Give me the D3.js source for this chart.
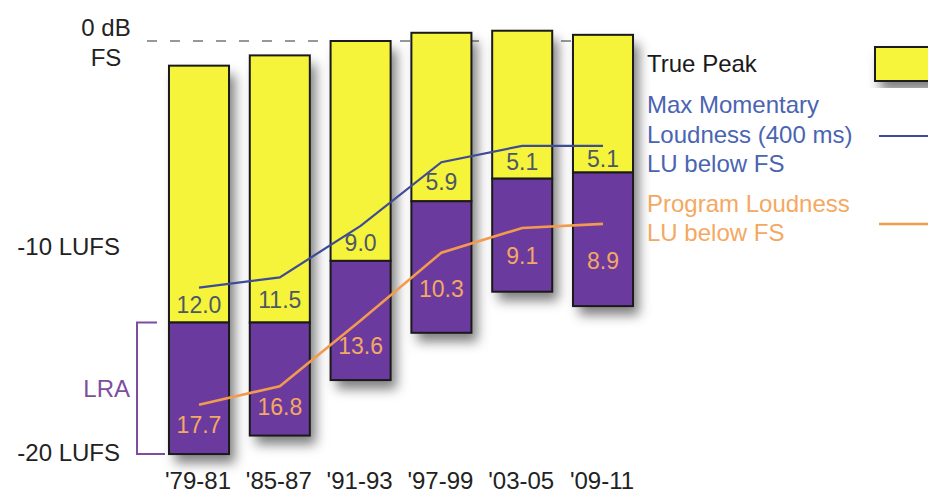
<!DOCTYPE html>
<html>
<head>
<meta charset="utf-8">
<script src="https://cdn.jsdelivr.net/npm/d3@7/dist/d3.min.js"></script>
<style>
  html, body { margin: 0; padding: 0; background: #fff; }
  svg { display: block; font-family: "Liberation Sans", Arial, Helvetica, sans-serif; }
</style>
</head>
<body>
<svg id="chart" width="928" height="495"></svg>
<script>
// Loudness statistics per period, in dB relative to full scale
const categories = ["'79-81", "'85-87", "'91-93", "'97-99", "'03-05", "'09-11"];
const truePeak = [-1.2, -0.7, 0.0, 0.4, 0.5, 0.3];
const maxMomentary = [-12.0, -11.5, -9.0, -5.9, -5.1, -5.1];
const programLoudness = [-17.7, -16.8, -13.6, -10.3, -9.1, -8.9];
const lraHigh = [-13.7, -13.7, -10.7, -7.8, -6.7, -6.4];
const lraLow = [-20.1, -19.2, -16.5, -14.2, -12.2, -12.9];
const yTicks = [0, -10, -20];
const yTickLabels = [["0 dB", "FS"], ["-10 LUFS"], ["-20 LUFS"]];
const legendLabels = {
  peak: ["True Peak"],
  momentary: ["Max Momentary", "Loudness (400 ms)", "LU below FS"],
  program: ["Program Loudness", "LU below FS"]
};

const YELLOW = "#f6f43a";
const PURPLE = "#6b3a9f";
const BLUE_LINE = "#3e4c96";
const BLUE_TEXT = "#4a64b2";
const ORANGE = "#f29a4e";
const ORANGE_TEXT = "#f4a862";
const LABEL_DARK = "#4c5868";
const LRA_COLOR = "#7d4d9f";

const svg = d3.select("#chart");

const defs = svg.append("defs");
const shadow = defs.append("filter").attr("id", "shadow")
  .attr("x", "-30%").attr("y", "-10%").attr("width", "170%").attr("height", "130%");
shadow.append("feDropShadow")
  .attr("dx", 6).attr("dy", 9).attr("stdDeviation", 6)
  .attr("flood-color", "#000").attr("flood-opacity", 0.5);

const y = d3.scaleLinear().domain([0, -20]).range([41, 452]);
const x = d3.scaleBand().domain(categories)
  .range([158.6, 643.4]).paddingInner(0.257).paddingOuter(0.1285);
const cx = d => x(d) + x.bandwidth() / 2;

// 0 dBFS reference line
svg.append("line")
  .attr("x1", 147).attr("x2", 600)
  .attr("y1", y(0)).attr("y2", y(0))
  .attr("stroke", "#777").attr("stroke-width", 1.6)
  .attr("stroke-dasharray", "10,13");

// Vertical axis labels
const axis = d3.axisLeft(y).tickValues(yTicks).tickSize(0).tickPadding(0)
  .tickFormat(() => "");
const axisG = svg.append("g").attr("transform", "translate(120,0)").call(axis);
axisG.select(".domain").remove();
axisG.selectAll(".tick text").each(function (d, i) {
  const t = d3.select(this)
    .attr("fill", "#222").attr("font-size", 24).attr("font-family", null)
    .attr("dy", null);
  const lines = yTickLabels[i];
  if (lines.length > 1) {
    t.attr("text-anchor", "middle").attr("x", -14);
    lines.forEach((s, k) => t.append("tspan")
      .attr("x", -14).attr("y", k === 0 ? -6 : 24).text(s));
  } else {
    t.attr("text-anchor", "end").attr("x", 0).attr("y", 8).text(lines[0]);
  }
});

// Bars: true peak down to the top of the loudness range (yellow), loudness range (purple)
const bars = svg.append("g").selectAll("g").data(categories).join("g");
bars.append("rect")
  .attr("x", d => x(d)).attr("width", x.bandwidth())
  .attr("y", (d, i) => y(truePeak[i]))
  .attr("height", (d, i) => y(lraLow[i]) - y(truePeak[i]))
  .attr("fill", YELLOW).attr("filter", "url(#shadow)");
bars.append("rect")
  .attr("x", d => x(d)).attr("width", x.bandwidth())
  .attr("y", (d, i) => y(truePeak[i]))
  .attr("height", (d, i) => y(lraHigh[i]) - y(truePeak[i]))
  .attr("fill", YELLOW).attr("stroke", "#1a1a1a").attr("stroke-width", 2);
bars.append("rect")
  .attr("x", d => x(d)).attr("width", x.bandwidth())
  .attr("y", (d, i) => y(lraHigh[i]))
  .attr("height", (d, i) => y(lraLow[i]) - y(lraHigh[i]))
  .attr("fill", PURPLE).attr("stroke", "#1a1a1a").attr("stroke-width", 2);

// Loudness lines
const line = d3.line().x(d => cx(d[0])).y(d => y(d[1]));
svg.append("path")
  .datum(categories.map((c, i) => [c, maxMomentary[i]]))
  .attr("d", line).attr("fill", "none")
  .attr("stroke", BLUE_LINE).attr("stroke-width", 2.2);
svg.append("path")
  .datum(categories.map((c, i) => [c, programLoudness[i]]))
  .attr("d", line).attr("fill", "none")
  .attr("stroke", ORANGE).attr("stroke-width", 2.6);

// Value labels, LU below full scale
svg.append("g").selectAll("text").data(categories).join("text")
  .attr("x", d => cx(d))
  .attr("y", (d, i) => (y(maxMomentary[i]) + y(lraHigh[i])) / 2)
  .attr("dy", "0.35em").attr("text-anchor", "middle")
  .attr("font-size", 23).attr("fill", LABEL_DARK)
  .text((d, i) => Math.abs(maxMomentary[i]).toFixed(1));
svg.append("g").selectAll("text").data(categories).join("text")
  .attr("x", d => cx(d))
  .attr("y", (d, i) => (y(programLoudness[i]) + y(lraLow[i])) / 2 - 4)
  .attr("dy", "0.35em").attr("text-anchor", "middle")
  .attr("font-size", 23).attr("fill", ORANGE_TEXT)
  .text((d, i) => Math.abs(programLoudness[i]).toFixed(1));

// Category labels
svg.append("g").selectAll("text").data(categories).join("text")
  .attr("x", d => cx(d) - 1).attr("y", 489)
  .attr("text-anchor", "middle").attr("font-size", 24).attr("fill", "#222")
  .text(d => d);

// Loudness range bracket on the first bar
const bTop = y(lraHigh[0]), bBot = y(lraLow[0]);
svg.append("path")
  .attr("d", `M157,${bTop}H137V${bBot}H165`)
  .attr("fill", "none").attr("stroke", LRA_COLOR).attr("stroke-width", 2);
svg.append("text")
  .attr("x", 130).attr("y", (bTop + bBot) / 2).attr("dy", "0.35em")
  .attr("text-anchor", "end").attr("font-size", 24).attr("fill", LRA_COLOR)
  .text("LRA");

// Legend
const legend = svg.append("g");
legend.append("text").attr("x", 647).attr("y", 72)
  .attr("font-size", 24).attr("fill", "#1a1a1a").text(legendLabels.peak[0]);
legend.append("rect").attr("x", 875).attr("y", 47).attr("width", 80).attr("height", 34)
  .attr("fill", YELLOW).attr("stroke", "#1a1a1a").attr("stroke-width", 2)
  .attr("filter", "url(#shadow)");
legendLabels.momentary.forEach((s, k) => legend.append("text")
  .attr("x", 647).attr("y", 113 + k * 29.5)
  .attr("font-size", 24).attr("fill", BLUE_TEXT).text(s));
legend.append("line").attr("x1", 879).attr("x2", 930).attr("y1", 136).attr("y2", 136)
  .attr("stroke", BLUE_LINE).attr("stroke-width", 2.2);
legendLabels.program.forEach((s, k) => legend.append("text")
  .attr("x", 647).attr("y", 212 + k * 28.5)
  .attr("font-size", 24).attr("fill", ORANGE_TEXT).text(s));
legend.append("line").attr("x1", 879).attr("x2", 930).attr("y1", 224).attr("y2", 224)
  .attr("stroke", ORANGE).attr("stroke-width", 2.6);
</script>
</body>
</html>
